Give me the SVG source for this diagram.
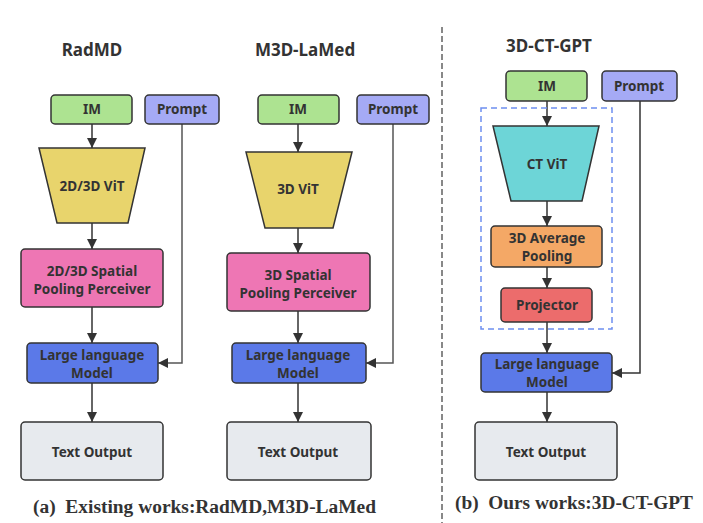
<svg xmlns="http://www.w3.org/2000/svg" width="703" height="523" viewBox="0 0 703 523">
<defs>
<marker id="arr" viewBox="0 0 10 10" refX="10" refY="5" markerWidth="10" markerHeight="10" markerUnits="userSpaceOnUse" orient="auto">
<path d="M0,0 L10,5 L0,10 z" fill="#333"/>
</marker>
<style>
.n{stroke:#333;stroke-width:1.5}
.t{font-family:"Noto Sans","Open Sans",sans-serif;font-weight:bold;font-size:13.5px;fill:#333;text-anchor:middle}
.h{font-family:"Noto Sans","Open Sans",sans-serif;font-weight:bold;font-size:17px;fill:#333;text-anchor:middle}
.c{font-family:"Liberation Serif",serif;font-weight:bold;font-size:18px;fill:#333}
.im{fill:#ade391}
.pr{fill:#a5aaf5}
.vit{fill:#e8d46c}
.pk{fill:#ee76b4}
.llm{fill:#5b79e8}
.out{fill:#e7eaee}
.e{fill:none;stroke:#333;stroke-width:1.5;marker-end:url(#arr)}
.p{fill:none;stroke:#555;stroke-width:1.5;marker-end:url(#arr)}
</style>
</defs>
<rect width="703" height="523" fill="#fff"/>
<line x1="442" y1="27" x2="442" y2="523" stroke="#888" stroke-width="2" stroke-dasharray="6,3"/>

<text class="h" x="92" y="56">RadMD</text>
<text class="h" x="305" y="56">M3D-LaMed</text>
<text class="h" x="549" y="52">3D-CT-GPT</text>

<g id="connectors">
<path class="e" d="M92,124 V148"/>
<path class="e" d="M92,223 V249"/>
<path class="e" d="M92,307 V343"/>
<path class="e" d="M92,383 V422"/>
<path class="p" d="M182,124 V363 H158"/>
<path class="e" d="M298,124 V152"/>
<path class="e" d="M298,228 V253"/>
<path class="e" d="M298,311 V343"/>
<path class="e" d="M298,383 V422"/>
<path class="p" d="M393,124 V363 H366"/>
<path class="e" d="M547,101 V126"/>
<path class="e" d="M547,201 V226"/>
<path class="e" d="M547,267 V288"/>
<path class="e" d="M547,322 V353"/>
<path class="e" d="M547,392 V422"/>
<path class="e" d="M640,101 V373 H612"/>
</g>

<g id="radmd-im"><rect class="n im" x="51" y="95" width="81" height="29" rx="4"/><text class="t" x="92" y="114">IM</text></g>
<g id="radmd-prompt"><rect class="n pr" x="145" y="95" width="74" height="29" rx="4"/><text class="t" x="182" y="114">Prompt</text></g>
<g id="radmd-vit"><polygon class="n vit" points="39,148 145,148 128,223 57,223"/><text class="t" x="92" y="191">2D/3D ViT</text></g>
<g id="radmd-spp"><rect class="n pk" x="21" y="249" width="142" height="58" rx="4"/><text class="t" x="92" y="276">2D/3D Spatial</text><text class="t" x="92" y="294">Pooling Perceiver</text></g>
<g id="radmd-llm"><rect class="n llm" x="27" y="343" width="131" height="40" rx="4"/><text class="t" x="92" y="360">Large language</text><text class="t" x="92" y="378">Model</text></g>
<g id="radmd-out"><rect class="n out" x="21" y="422" width="142" height="58" rx="4"/><text class="t" x="92" y="457">Text Output</text></g>

<g id="m3d-im"><rect class="n im" x="258" y="95" width="81" height="29" rx="4"/><text class="t" x="298" y="114">IM</text></g>
<g id="m3d-prompt"><rect class="n pr" x="357" y="95" width="72" height="29" rx="4"/><text class="t" x="393" y="114">Prompt</text></g>
<g id="m3d-vit"><polygon class="n vit" points="246,152 352,152 333,228 265,228"/><text class="t" x="298" y="194">3D ViT</text></g>
<g id="m3d-spp"><rect class="n pk" x="227" y="253" width="143" height="58" rx="4"/><text class="t" x="298" y="280">3D Spatial</text><text class="t" x="298" y="298">Pooling Perceiver</text></g>
<g id="m3d-llm"><rect class="n llm" x="232" y="343" width="134" height="40" rx="4"/><text class="t" x="298" y="360">Large language</text><text class="t" x="298" y="378">Model</text></g>
<g id="m3d-out"><rect class="n out" x="227" y="422" width="144" height="58" rx="4"/><text class="t" x="298" y="457">Text Output</text></g>

<g id="ours-group"><rect x="481" y="108" width="131" height="221" fill="none" stroke="#6e8ef0" stroke-width="1.5" stroke-dasharray="6,4"/></g>
<g id="ours-im"><rect class="n im" x="506" y="71" width="81" height="30" rx="4"/><text class="t" x="547" y="91">IM</text></g>
<g id="ours-prompt"><rect class="n pr" x="602" y="71" width="75" height="30" rx="4"/><text class="t" x="639" y="91">Prompt</text></g>
<g id="ours-vit"><polygon class="n" fill="#6dd5d7" points="493,126 599,126 582,201 511,201"/><text class="t" x="547" y="169">CT ViT</text></g>
<g id="ours-pool"><rect class="n" fill="#f4a866" x="491" y="226" width="111" height="41" rx="4"/><text class="t" x="547" y="243">3D Average</text><text class="t" x="547" y="261">Pooling</text></g>
<g id="ours-proj"><rect class="n" fill="#ec6c6c" x="501" y="288" width="91" height="34" rx="4"/><text class="t" x="547" y="310">Projector</text></g>
<g id="ours-llm"><rect class="n llm" x="481" y="353" width="131" height="39" rx="4"/><text class="t" x="547" y="369">Large language</text><text class="t" x="547" y="387">Model</text></g>
<g id="ours-out"><rect class="n out" x="475" y="422" width="142" height="58" rx="4"/><text class="t" x="546" y="457">Text Output</text></g>

<text class="c" x="33" y="513" textLength="343" lengthAdjust="spacingAndGlyphs" xml:space="preserve">(a)  Existing works:RadMD,M3D-LaMed</text>
<text class="c" x="455" y="509" textLength="238" lengthAdjust="spacingAndGlyphs" xml:space="preserve">(b)  Ours works:3D-CT-GPT</text>
</svg>
